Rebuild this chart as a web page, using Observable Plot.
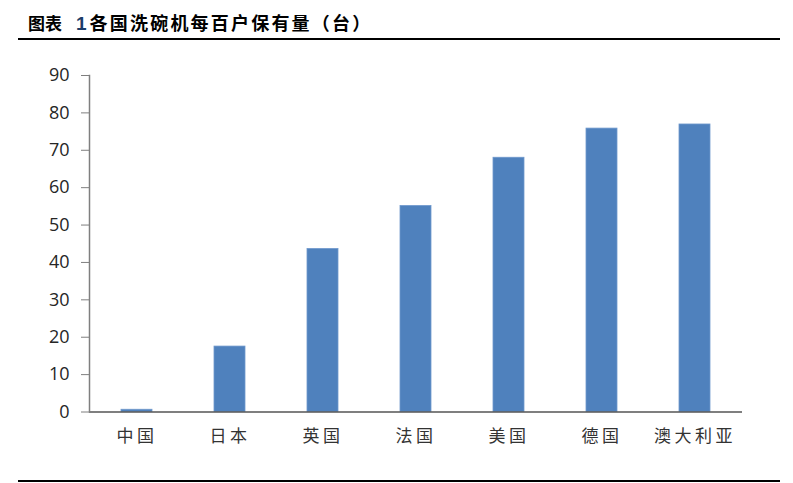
<!DOCTYPE html>
<html>
<head>
<meta charset="utf-8">
<script src="https://cdn.jsdelivr.net/npm/d3@7"></script>
<script src="https://cdn.jsdelivr.net/npm/@observablehq/plot@0.6"></script>
<style>
  html, body { margin: 0; padding: 0; background: #fff; }
  #wrap { position: relative; width: 793px; height: 483px; overflow: hidden; }
  #title { position: absolute; left: 28px; top: 10px; font-family: "Noto Sans CJK SC", sans-serif; font-weight: bold; color: #000; white-space: nowrap; line-height: 24px; }
  #title .a { font-size: 17px; letter-spacing: 0px; }
  #title .n { font-size: 19px; color: #1b3c68; font-family: "Liberation Sans", Arial, sans-serif; margin: 0 3px 0 14px; }
  #title .b { font-size: 18px; letter-spacing: 2.2px; }
  #topline { position: absolute; left: 18px; top: 38px; width: 762px; height: 1.5px; background: #000; }
  #botline { position: absolute; left: 18px; top: 480px; width: 762px; height: 1.5px; background: #000; }
  #chart { position: absolute; left: 0; top: 0; }
</style>
</head>
<body>
<div id="wrap">
  <div id="chart"></div>
  <div id="title"><span class="a">图表</span><span class="n">1</span><span class="b">各国洗碗机每百户保有量（台）</span></div>
  <div id="topline"></div>
  <div id="botline"></div>
</div>
<script>
const countries = ["中国", "日本", "英国", "法国", "美国", "德国", "澳大利亚"];
const ownership = [0.6, 17.5, 43.6, 55.1, 68.0, 75.8, 76.9];
const yTicks = [0, 10, 20, 30, 40, 50, 60, 70, 80, 90];

const data = countries.map((c, i) => ({country: c, value: ownership[i]}));

const plot = Plot.plot({
  width: 793,
  height: 483,
  marginTop: 75,
  marginBottom: 71.5,
  marginLeft: 89,
  marginRight: 51,
  style: {background: "transparent", overflow: "visible"},
  x: {domain: countries, paddingInner: 0.668, paddingOuter: 0.334, label: null},
  y: {domain: [0, 90], label: null},
  marks: [
    Plot.barY(data, {x: "country", y: "value", fill: "#4f81bd", stroke: "#6f98cc", strokeWidth: 0.8}),
    Plot.ruleY([0], {stroke: "#555", strokeWidth: 1.5}),
    Plot.frame({anchor: "left", stroke: "#7f7f7f", strokeWidth: 1.5}),
    Plot.axisY({ticks: yTicks, tickSize: 8, tickPadding: 12, fontSize: 18, stroke: "#7f7f7f", fill: "#262626", fontFamily: "Open Sans, sans-serif", label: null}),
    Plot.axisX({tickSize: 0, tickPadding: 18, fontSize: 17, fill: "#333", fontFamily: "Noto Sans CJK SC", label: null})
  ]
});
d3.select(plot).selectAll("[aria-label='x-axis tick label'] text").style("letter-spacing", "3.5px");
document.getElementById("chart").appendChild(plot);
</script>
</body>
</html>
